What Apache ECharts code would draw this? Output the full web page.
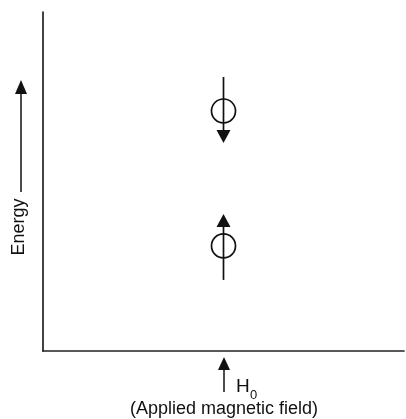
<!DOCTYPE html>
<html>
<head>
<meta charset="utf-8">
<script src="https://cdn.jsdelivr.net/npm/echarts@6/dist/echarts.min.js"></script>
<style>html,body{margin:0;padding:0;background:#fff}#main{width:406px;height:419px}</style>
</head>
<body>
<div id="main"></div>
<script>
// two spin states in the applied field
var spinNames = ['aligned', 'opposed'];
var spinX = [0.5, 0.5];
var spinEnergy = [0.31, 0.708];
var spinDir = [1, -1]; // 1 = arrow up, -1 = arrow down

var myChart = echarts.init(document.getElementById('main'));

function renderSpin(params, api) {
    var p = api.coord([api.value(0), api.value(1)]);
    var dir = api.value(2);
    var tip = p[1] - dir * 32;
    var tail = p[1] + dir * 34;
    var base = tip + dir * 13;
    return {
        type: 'group',
        children: [
            {type: 'line', shape: {x1: p[0], y1: tail, x2: p[0], y2: base}, style: {stroke: '#111', lineWidth: 1.7}},
            {type: 'circle', shape: {cx: p[0], cy: p[1], r: 12}, style: {fill: 'none', stroke: '#111', lineWidth: 1.7}},
            {type: 'polygon', shape: {points: [[p[0], tip], [p[0] - 7, base], [p[0] + 7, base]]}, style: {fill: '#111'}}
        ]
    };
}

var spinData = spinNames.map(function (n, i) {
    return {name: n, value: [spinX[i], spinEnergy[i], spinDir[i]]};
});

var font = 'Liberation Sans';

var option = {
    animation: false,
    grid: {left: 43, top: 12, right: 2, bottom: 68},
    xAxis: {
        type: 'value', min: 0, max: 1,
        axisLine: {show: true, lineStyle: {color: '#222', width: 1.7}},
        axisTick: {show: false}, axisLabel: {show: false}, splitLine: {show: false}
    },
    yAxis: {
        type: 'value', min: 0, max: 1,
        axisLine: {show: true, lineStyle: {color: '#222', width: 1.7}},
        axisTick: {show: false}, axisLabel: {show: false}, splitLine: {show: false}
    },
    graphic: [
        // Energy label and arrow
        {type: 'text', x: 19, y: 227, rotation: Math.PI / 2,
         style: {text: 'Energy', font: '18px ' + font, fill: '#111', align: 'center', verticalAlign: 'middle'}},
        {type: 'line', shape: {x1: 21, y1: 192, x2: 21, y2: 92}, style: {stroke: '#111', lineWidth: 1.5}},
        {type: 'polygon', shape: {points: [[21, 80], [15, 94], [27, 94]]}, style: {fill: '#111'}},
        // H0 arrow and label
        {type: 'line', shape: {x1: 224, y1: 392, x2: 224, y2: 368}, style: {stroke: '#111', lineWidth: 1.5}},
        {type: 'polygon', shape: {points: [[224, 357], [218, 370], [230, 370]]}, style: {fill: '#111'}},
        {type: 'text', x: 236, y: 387,
         style: {text: 'H', font: '19px ' + font, fill: '#111', align: 'left', verticalAlign: 'middle'}},
        {type: 'text', x: 250, y: 395,
         style: {text: '0', font: '13px ' + font, fill: '#111', align: 'left', verticalAlign: 'middle'}},
        {type: 'text', x: 224, y: 409,
         style: {text: '(Applied magnetic field)', font: '18px ' + font, fill: '#111', align: 'center', verticalAlign: 'middle'}}
    ],
    series: [{
        type: 'custom',
        renderItem: renderSpin,
        data: spinData
    }]
};
myChart.setOption(option);
</script>
</body>
</html>
